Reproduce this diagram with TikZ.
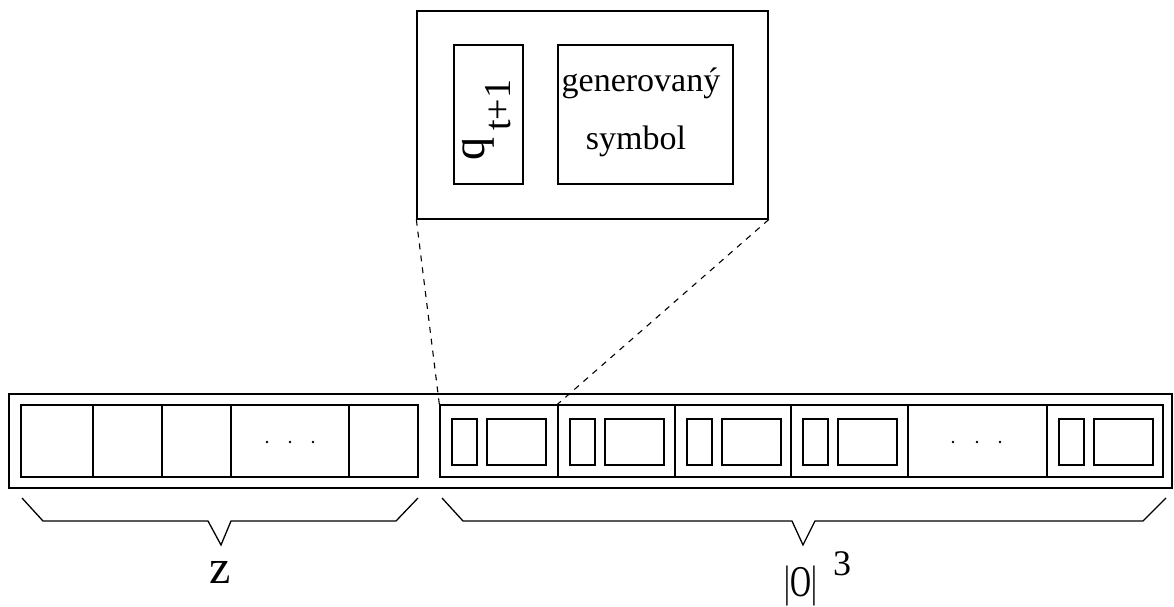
\documentclass[tikz,border=0pt]{standalone}
\usepackage{fontspec}
\setmainfont{Liberation Serif}
\usetikzlibrary{fit}
\tikzset{
  box/.style={draw, line width=1.3pt, inner sep=0pt},
  dashline/.style={line width=1.1pt, dash pattern=on 6pt off 6pt},
  bracepath/.style={line width=1.3pt},
  dotmark/.style={fill=black}
}
\begin{document}
\begin{tikzpicture}[x=1pt,y=-1pt]
\useasboundingbox (0,0) rectangle (1174,607);
% zoomed box at top
\node[box, fit={(417,11) (768,219)}] (top) {};
\node[box, fit={(454,45) (523,184)}] (qbox) {};
\node[box, fit={(558,45) (733,184)}] (gbox) {};
\node[rotate=90, anchor=base west, inner sep=0pt, font=\fontsize{46}{46}\selectfont] (q) at (484,161)
  {q\hspace{7pt}\raisebox{-26pt}{\fontsize{38}{38}\selectfont t+1}};
\node[anchor=base, inner sep=0pt, font=\fontsize{34}{34}\selectfont] (gen) at (641,92) {generovaný};
\node[anchor=base, inner sep=0pt, font=\fontsize{34}{34}\selectfont] (sym) at (636,149) {symbol};
% long row
\node[box, fit={(9,394) (1172,488)}] (outer) {};
\node[box, fit={(21,405) (418,477)}] (lg) {};
\foreach \a/\b/\n in {21/93/1,93/162/2,162/231/3,231/349/4,349/418/5}{
  \node[box, fit={(\a,405) (\b,477)}] (lc\n) {};
}
\fill[dotmark] (267,442) circle (1.3pt) (290,442) circle (1.3pt) (313,442) circle (1.3pt);
\node[box, fit={(440,405) (1163,477)}] (rg) {};
\foreach \a/\b/\n in {440/558/1,558/675/2,675/791/3,791/908/4,908/1047/5,1047/1163/6}{
  \node[box, fit={(\a,405) (\b,477)}] (c\n) {};
}
\foreach \L/\n in {440/1,558/2,675/3,791/4,1047/6}{
  \node[box, fit={(\L+12,419) (\L+37,465)}] (s\n) {};
  \node[box, fit={(\L+47,419) (\L+106,465)}] (b\n) {};
}
\fill[dotmark] (953,442) circle (1.3pt) (977,442) circle (1.3pt) (1000,442) circle (1.3pt);
% dashed zoom lines
\draw[dashline] (top.south west) -- (rg.north west);
\draw[dashline] (top.south east) -- (c2.north west);
% braces
\draw[bracepath] (22,498) -- (43,521) -- (208,521) -- (221,545) -- (231,521) -- (396,521) -- (418,498);
\draw[bracepath] (442,498) -- (463,521) -- (792,521) -- (803,545) -- (815,521) -- (1143,521) -- (1166,498);
\node[anchor=base, inner sep=0pt, font=\fontsize{48}{48}\selectfont] (z) at (220,583) {z};
\node[anchor=base, inner sep=0pt, font=\fontsize{44}{44}\selectfont] (o) at (801,596) {\scalebox{0.66}[1]{|O|}};
\node[anchor=base, inner sep=0pt, font=\fontsize{36}{36}\selectfont] (three) at (842,575) {3};
\end{tikzpicture}
\end{document}
